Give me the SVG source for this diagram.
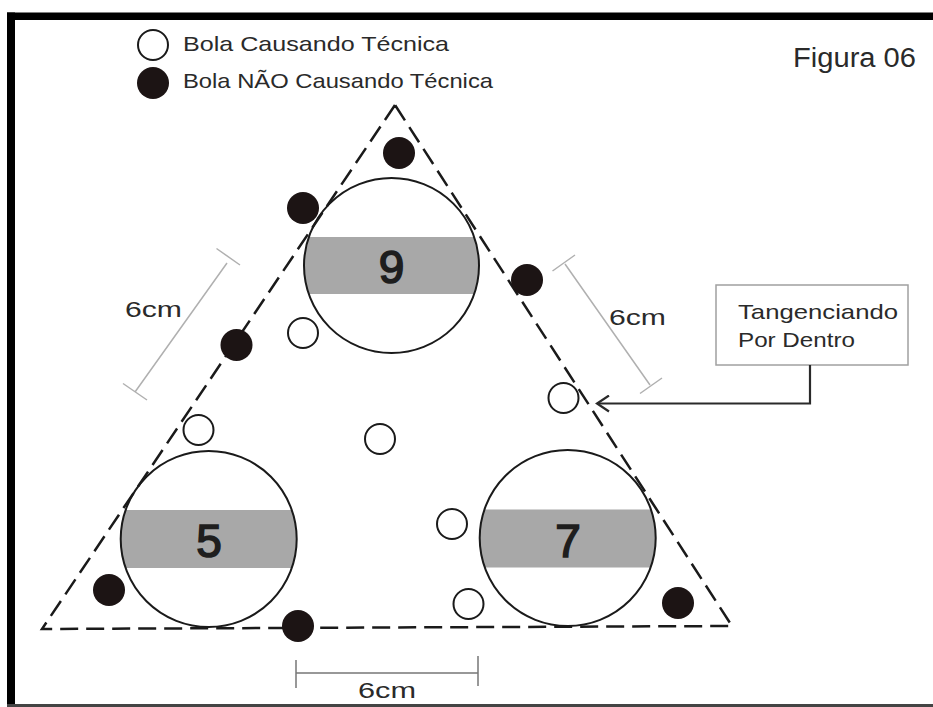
<svg xmlns="http://www.w3.org/2000/svg" width="933" height="707" viewBox="0 0 933 707">
<style>
.txt{font-family:"Liberation Sans","DejaVu Sans",sans-serif;fill:#2a2a2a}
.num{font-family:"Liberation Sans","DejaVu Sans",sans-serif;font-weight:normal;fill:#1e1e1e;stroke:#1e1e1e;stroke-width:1.6;font-size:46px;text-anchor:middle}
.wb{fill:#fff;stroke:#1a1a1a;stroke-width:2}
.bb{fill:#1c1414;stroke:none}
.big{fill:none;stroke:#1a1a1a;stroke-width:2}
.band{fill:#a8a8a8}
.tri{fill:none;stroke:#1a1a1a;stroke-width:2.5;stroke-dasharray:18 8}
.dim{fill:none;stroke:#b0b0b0;stroke-width:1.5}
.dimb{fill:none;stroke:#777;stroke-width:1.5}
</style>
<defs>
<clipPath id="c9"><circle cx="391.5" cy="265.5" r="87.5"/></clipPath>
<clipPath id="c5"><circle cx="208.7" cy="539" r="88"/></clipPath>
<clipPath id="c7"><circle cx="567.7" cy="538" r="88"/></clipPath>
<marker id="arr" viewBox="0 0 16 18" refX="14" refY="9" markerWidth="16" markerHeight="18" markerUnits="userSpaceOnUse" orient="auto">
<path d="M2,1 L14,9 L2,17" fill="none" stroke="#2a2a2a" stroke-width="2.2"/>
</marker>
</defs>
<rect x="0" y="0" width="933" height="707" fill="#fff"/>
<g id="frame">
<rect x="7" y="12.5" width="926" height="7.5" fill="#000"/>
<rect x="7" y="12.5" width="8" height="694.5" fill="#000"/>
<rect x="7" y="704" width="926" height="3" fill="#444"/>
</g>
<g id="legend">
<circle class="wb" cx="153" cy="45" r="15"/>
<circle class="bb" cx="153" cy="83" r="16"/>
<text class="txt" x="183" y="50.5" font-size="21" textLength="266" lengthAdjust="spacingAndGlyphs">Bola Causando Técnica</text>
<text class="txt" x="183" y="88" font-size="21" textLength="310" lengthAdjust="spacingAndGlyphs">Bola NÃO Causando Técnica</text>
</g>
<g id="title">
<text class="txt" x="793" y="66.5" font-size="27" textLength="123" lengthAdjust="spacingAndGlyphs">Figura 06</text>
</g>
<g id="ball9">
<circle cx="391.5" cy="265.5" r="87.5" fill="#fff"/>
<rect class="band" x="300" y="237" width="180" height="57" clip-path="url(#c9)"/>
<circle class="big" cx="391.5" cy="265.5" r="87.5"/>
<text class="num" x="391.5" y="283">9</text>
</g>
<g id="ball5">
<circle cx="208.7" cy="539" r="88" fill="#fff"/>
<rect class="band" x="118" y="510" width="180" height="58" clip-path="url(#c5)"/>
<circle class="big" cx="208.7" cy="539" r="88"/>
<text class="num" x="209" y="557">5</text>
</g>
<g id="ball7">
<circle cx="567.7" cy="538" r="88" fill="#fff"/>
<rect class="band" x="477" y="509.5" width="182" height="58" clip-path="url(#c7)"/>
<circle class="big" cx="567.7" cy="538" r="88"/>
<text class="num" x="568" y="557">7</text>
</g>
<g id="triangle">
<path class="tri" d="M395,105 L42,629 L732,626 Z"/>
</g>
<g id="black-balls">
<circle class="bb" cx="399" cy="153" r="16"/>
<circle class="bb" cx="303" cy="208" r="16"/>
<circle class="bb" cx="527" cy="280" r="16"/>
<circle class="bb" cx="236.5" cy="345" r="16"/>
<circle class="bb" cx="109" cy="590" r="16"/>
<circle class="bb" cx="298" cy="626" r="16"/>
<circle class="bb" cx="678" cy="603" r="16"/>
</g>
<g id="white-balls">
<circle class="wb" cx="303" cy="333" r="15"/>
<circle class="wb" cx="198.5" cy="430" r="15"/>
<circle class="wb" cx="380" cy="439" r="15"/>
<circle class="wb" cx="563.5" cy="398" r="15"/>
<circle class="wb" cx="452" cy="524" r="15"/>
<circle class="wb" cx="468.5" cy="604" r="15"/>
</g>
<g id="dim-left">
<path class="dim" d="M227,263 L135,392 M216.5,248.5 L240,265 M123,383.5 L147,400"/>
<text class="txt" x="125" y="317" font-size="22" textLength="57" lengthAdjust="spacingAndGlyphs">6cm</text>
</g>
<g id="dim-right">
<path class="dim" d="M565,264 L650,385 M552.5,271 L575,255 M640,393.5 L662,378"/>
<text class="txt" x="609" y="325" font-size="22" textLength="57" lengthAdjust="spacingAndGlyphs">6cm</text>
</g>
<g id="dim-bottom">
<path class="dimb" d="M296,673 L478,673 M296,660 L296,688 M478,656 L478,686"/>
<text class="txt" x="358" y="698" font-size="22" textLength="58" lengthAdjust="spacingAndGlyphs">6cm</text>
</g>
<g id="callout">
<rect x="716" y="285" width="192" height="80" fill="#fff" stroke="#a0a0a0" stroke-width="1.5"/>
<text class="txt" x="738" y="319" font-size="21" textLength="160" lengthAdjust="spacingAndGlyphs">Tangenciando</text>
<text class="txt" x="738" y="346.5" font-size="21" textLength="117" lengthAdjust="spacingAndGlyphs">Por Dentro</text>
</g>
<g id="connectors">
<path d="M810,365 L810,403.5 L597,403.5" fill="none" stroke="#2a2a2a" stroke-width="2.2" marker-end="url(#arr)"/>
</g>
</svg>
